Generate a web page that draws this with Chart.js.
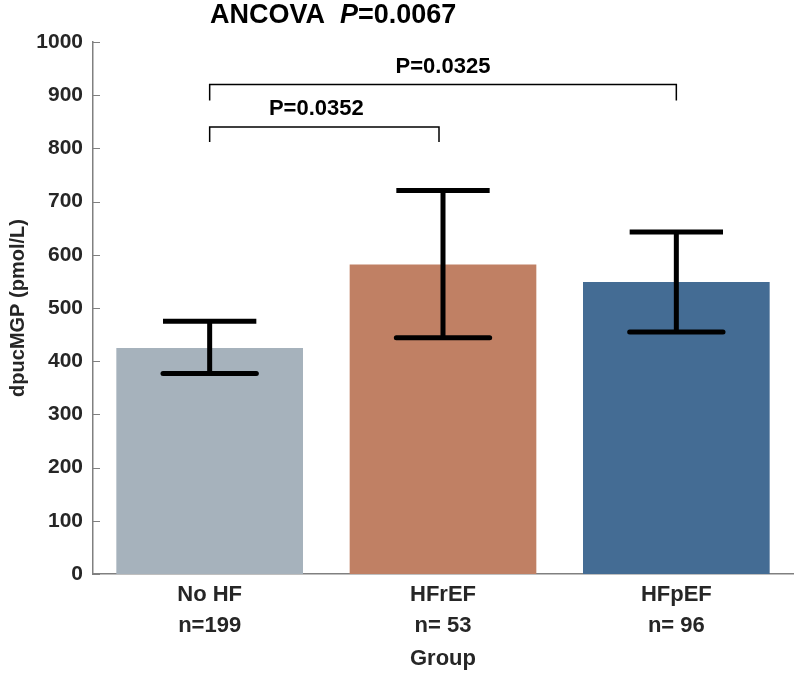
<!DOCTYPE html>
<html>
<head>
<meta charset="utf-8">
<script src="https://cdn.jsdelivr.net/npm/chart.js@4/dist/chart.umd.min.js"></script>
<style>
  html, body { margin: 0; padding: 0; background: #fff; }
  #wrap { width: 800px; height: 677px; }
</style>
</head>
<body>
<div id="wrap"><canvas id="dpucChart" width="800" height="677"></canvas></div>
<script>
// data
const groups = ['No HF', 'HFrEF', 'HFpEF'];
const nLabels = ['n=199', 'n= 53', 'n= 96'];
const means = [425, 582, 549];
const errLow = [377, 444, 455];
const errHigh = [475, 721, 643];
const barColors = ['#A6B2BC', '#C08064', '#446C94'];

const yTicks = [0, 100, 200, 300, 400, 500, 600, 700, 800, 900, 1000];

// pairwise comparisons: [from, to, level, drop, label]
const pairFrom = [0, 0];
const pairTo = [1, 2];
const pairLevel = [840, 920];
const pairDrop = [812, 890];
const pairText = ['P=0.0352', 'P=0.0325'];

const FONT = '"Liberation Sans", Arial, Helvetica, sans-serif';
const INK = '#262626';

// error bars, brackets, inward ticks, title
const extras = {
    id: 'extras',
    afterDatasetsDraw(chart) {
        const ctx = chart.ctx;
        const y = chart.scales.y;
        const bars = chart.getDatasetMeta(0).data;
        ctx.save();
        ctx.strokeStyle = '#000';
        ctx.lineWidth = 5;
        bars.forEach(function (bar, i) {
            const half = bar.width * 0.25;
            const yt = y.getPixelForValue(errHigh[i]);
            const yb = y.getPixelForValue(errLow[i]);
            ctx.lineCap = 'butt';
            ctx.beginPath();
            ctx.moveTo(bar.x, yt); ctx.lineTo(bar.x, yb);
            ctx.moveTo(bar.x - half, yt); ctx.lineTo(bar.x + half, yt);
            ctx.stroke();
            ctx.lineCap = 'round';
            ctx.beginPath();
            ctx.moveTo(bar.x - half, yb); ctx.lineTo(bar.x + half, yb);
            ctx.stroke();
        });
        ctx.restore();
    },
    afterDraw(chart) {
        const ctx = chart.ctx;
        const x = chart.scales.x;
        const y = chart.scales.y;
        ctx.save();

        // inward y ticks
        ctx.strokeStyle = '#808080';
        ctx.lineWidth = 1;
        y.ticks.forEach(function (t) {
            const py = Math.round(y.getPixelForValue(t.value)) + 0.5;
            ctx.beginPath();
            ctx.moveTo(x.left, py); ctx.lineTo(x.left + 7, py);
            ctx.stroke();
        });

        // brackets
        ctx.strokeStyle = '#000';
        ctx.lineWidth = 1.5;
        ctx.fillStyle = '#000';
        ctx.font = 'bold 22px ' + FONT;
        ctx.textAlign = 'center';
        ctx.textBaseline = 'alphabetic';
        for (let k = 0; k < pairText.length; k++) {
            const x1 = x.getPixelForValue(pairFrom[k]);
            const x2 = x.getPixelForValue(pairTo[k]) - (pairTo[k] === 1 ? 4 : 0);
            const yl = y.getPixelForValue(pairLevel[k]);
            const yd = y.getPixelForValue(pairDrop[k]);
            ctx.beginPath();
            ctx.moveTo(x1, yd); ctx.lineTo(x1, yl); ctx.lineTo(x2, yl); ctx.lineTo(x2, yd);
            ctx.stroke();
            const shift = pairTo[k] === 1 ? -8 : 0;
            ctx.fillText(pairText[k], (x1 + x2) / 2 + shift, yl - 12);
        }

        // title: ANCOVA  P=0.0067
        ctx.textAlign = 'left';
        let tx = 210;
        const ty = 23;
        ctx.font = 'bold 27px ' + FONT;
        ctx.fillText('ANCOVA  ', tx, ty);
        tx += ctx.measureText('ANCOVA  ').width;
        ctx.font = 'italic bold 27px ' + FONT;
        ctx.fillText('P', tx, ty);
        tx += ctx.measureText('P').width;
        ctx.font = 'bold 27px ' + FONT;
        ctx.fillText('=0.0067', tx, ty);

        ctx.restore();
    }
};

const data = {
    labels: groups.map(function (g, i) { return [g, nLabels[i]]; }),
    datasets: [{
        label: 'dpucMGP',
        data: means,
        backgroundColor: barColors,
        borderWidth: 0,
        barPercentage: 0.8,
        categoryPercentage: 1.0
    }]
};

const config = {
    type: 'bar',
    data: data,
    options: {
        responsive: false,
        animation: false,
        layout: { padding: { top: 42, right: 7, left: 0, bottom: 0 } },
        plugins: {
            legend: { display: false },
            tooltip: { enabled: false }
        },
        scales: {
            x: {
                grid: { display: false, drawTicks: false, tickLength: 0 },
                border: { display: true, color: '#808080', width: 1.5 },
                ticks: {
                    color: INK,
                    font: { family: FONT, size: 22, weight: 'bold', lineHeight: 1.4 },
                    padding: 6
                },
                title: {
                    display: true,
                    text: 'Group',
                    color: INK,
                    font: { family: FONT, size: 22, weight: 'bold', lineHeight: 1.2 },
                    padding: { top: 0, bottom: 5 }
                },
                afterFit: function (s) { s.height = 103; }
            },
            y: {
                min: 0,
                max: 1000,
                grid: { display: false, drawTicks: false, tickLength: 0 },
                border: { display: true, color: '#808080', width: 1.5 },
                afterBuildTicks: function (s) {
                    s.ticks = yTicks.map(function (v) { return { value: v }; });
                },
                ticks: {
                    color: INK,
                    font: { family: FONT, size: 21, weight: 'bold' },
                    padding: 10,
                    callback: function (value) { return String(value); }
                },
                title: {
                    display: true,
                    text: 'dpucMGP (pmol/L)',
                    color: INK,
                    font: { family: FONT, size: 20, weight: 'bold', lineHeight: 1.2 },
                    padding: { top: 6, bottom: 0 }
                },
                afterFit: function (s) { s.width = 93; }
            }
        }
    },
    plugins: [extras]
};

const dpucChart = new Chart(document.getElementById('dpucChart'), config);
</script>
</body>
</html>
